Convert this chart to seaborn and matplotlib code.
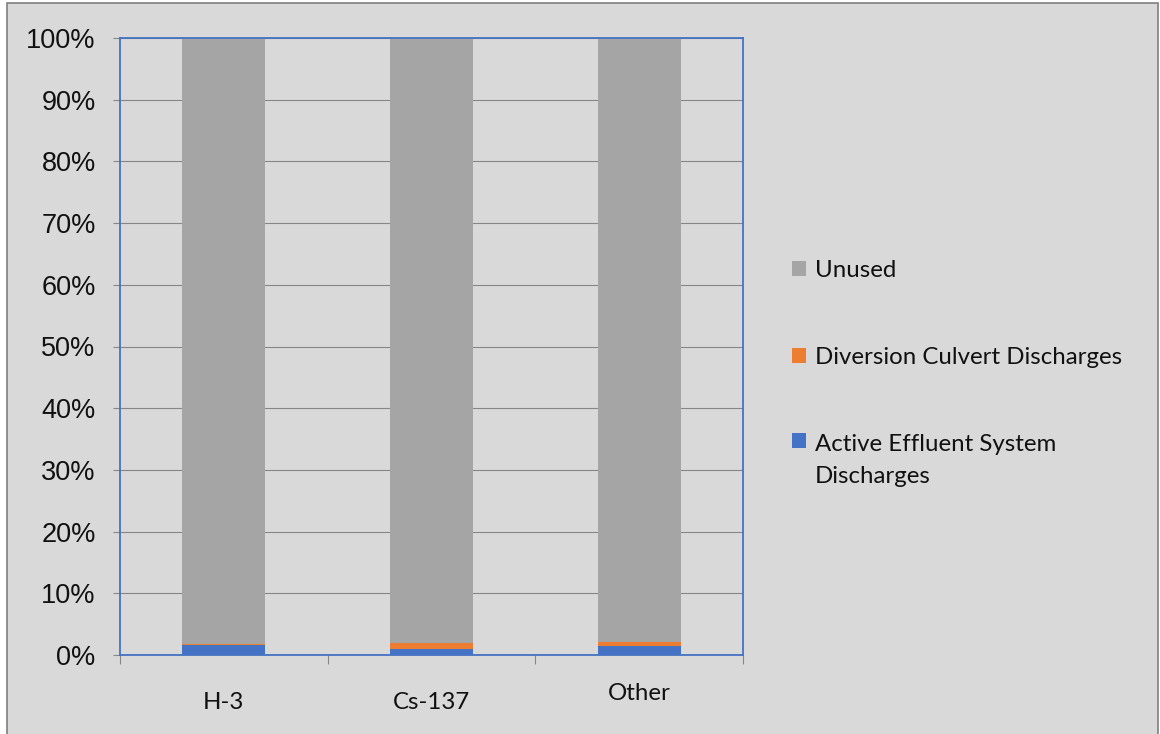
import matplotlib
matplotlib.use("Agg")
import matplotlib.pyplot as plt
import matplotlib.patches as mpatches
import matplotlib.transforms as mtransforms
from matplotlib.ticker import FixedLocator, PercentFormatter
import seaborn as sns
import pandas as pd
import numpy as np

# ---- data ----
categories = ["H-3", "Cs-137", "Other"]
active_effluent = [1.6, 0.9, 1.5]
diversion_culvert = [0.2, 1.0, 0.6]
unused = [98.2, 98.1, 97.9]
series_labels = ["Unused", "Diversion Culvert Discharges", "Active Effluent System\nDischarges"]
y_ticks = [0, 10, 20, 30, 40, 50, 60, 70, 80, 90, 100]

C_GRAY = "#a5a5a5"
C_ORANGE = "#ed7d31"
C_BLUE = "#4472c4"
BG = "#d9d9d9"

sns.set_theme(style="white")
plt.rcParams["font.family"] = ["Lato", "DejaVu Sans"]

df = pd.DataFrame({
    "category": categories,
    "active": active_effluent,
    "diversion": diversion_culvert,
    "unused": unused,
})
df["lvl1"] = df["active"]
df["lvl2"] = df["active"] + df["diversion"]
df["lvl3"] = df["lvl2"] + df["unused"]

fig = plt.figure(figsize=(11.6, 7.34), dpi=100)
fig.patch.set_facecolor("white")
# outer chart frame
frame = mpatches.Rectangle((7 / 1160, -0.01), (1158 - 7) / 1160, 1 - 3 / 734 + 0.01,
                           transform=fig.transFigure, facecolor=BG,
                           edgecolor="#7f7f7f", linewidth=1.2, zorder=-5)
fig.patches.append(frame)

ax = fig.add_axes([120 / 1160, 1 - 655 / 734, (743 - 120) / 1160, (655 - 38) / 734])
ax.set_zorder(2)
ax.set_facecolor(BG)

for col, colr in [("lvl3", C_GRAY), ("lvl2", C_ORANGE), ("lvl1", C_BLUE)]:
    sns.barplot(data=df, x="category", y=col, color=colr, saturation=1, width=0.4,
                ax=ax, zorder=3, edgecolor="none", linewidth=0)

ax.set_xlim(-0.5, 2.5)
ax.set_ylim(0, 100)
ax.set_xlabel("")
ax.set_ylabel("")

# y axis
ax.yaxis.set_major_locator(FixedLocator(y_ticks))
ax.yaxis.set_major_formatter(PercentFormatter(decimals=0))
ax.grid(axis="y", color="#868686", linewidth=0.8, zorder=1)
ax.set_axisbelow(True)
ax.tick_params(axis="y", which="major", left=True, length=5, width=0.8, color="#868686",
               pad=12.5, labelsize=19.5, labelcolor="#111111")
for lab in ax.get_yticklabels():
    lab.set_fontfamily(["Liberation Sans", "DejaVu Sans"])

# x axis: labels centred, tick marks on category boundaries
ax.set_xticks(range(len(categories)))
ax.set_xticklabels(categories)
ax.set_xticks([-0.5, 0.5, 1.5, 2.5], minor=True)
ax.tick_params(axis="x", which="major", bottom=False, length=0, pad=26.5, labelsize=17.3,
               labelcolor="#111111")
ax.tick_params(axis="x", which="minor", bottom=True, length=6.5, width=0.8, color="#868686")
other_lab = ax.get_xticklabels()[2]
other_lab.set_transform(other_lab.get_transform() +
                        mtransforms.ScaledTranslation(0, 9 / 100, fig.dpi_scale_trans))

for sp in ax.spines.values():
    sp.set_visible(True)
    sp.set_color(C_BLUE)
    sp.set_linewidth(1.3)
    sp.set_zorder(4)
ax.axhline(0, color="#868686", linewidth=1.0, zorder=3.5)

# legend
handles = [mpatches.Patch(facecolor=c, edgecolor="none") for c in (C_GRAY, C_ORANGE, C_BLUE)]
leg = fig.legend(handles, series_labels, loc="upper left",
                 bbox_to_anchor=(792 / 1160, 1 - 260 / 734), frameon=False,
                 fontsize=17.3, handlelength=0.6, handleheight=0.6, handletextpad=0.35,
                 labelspacing=2.75, borderpad=0, borderaxespad=0)
for t in leg.get_texts():
    t.set_color("#111111")
    t.set_linespacing(1.65)
# align the marker of the two-line entry with its first line
h3 = leg.legend_handles[2]
h3.set_y(h3.get_y() + 14.5)

fig.savefig("out.png", dpi=100, facecolor=fig.get_facecolor())
